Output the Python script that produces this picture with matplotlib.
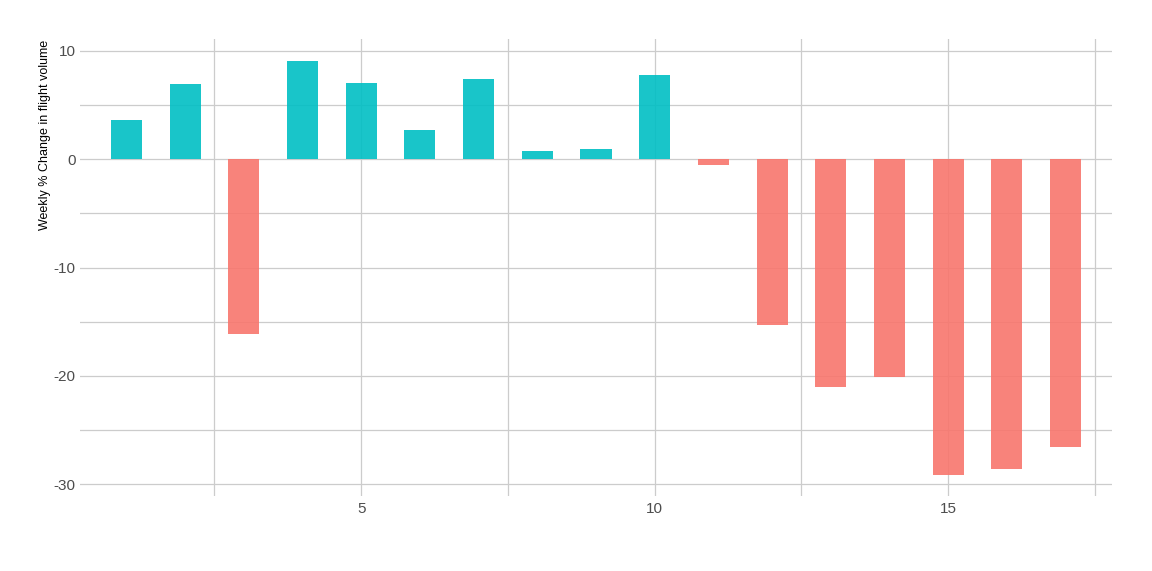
import matplotlib
matplotlib.use('Agg')
import matplotlib.pyplot as plt
import numpy as np

plt.rcParams['font.family'] = ['Liberation Sans', 'DejaVu Sans']
plt.rcParams['axes.unicode_minus'] = False

# weekly % change in flight volume, week index 1..17
weeks = list(range(1, 18))
pct_change = [3.6, 6.9, -16.1, 9.1, 7.0, 2.7, 7.4, 0.8, 0.9, 7.8,
              -0.55, -15.3, -21.0, -20.1, -29.2, -28.6, -26.6]

POS = '#00BFC4'
NEG = '#F8766D'
GRID = '#CCCCCC'

fig = plt.figure(figsize=(11.52, 5.71), dpi=100)
ax = fig.add_axes([80 / 1152, 1 - 496 / 571, 1032 / 1152, 457 / 571])

colors = [POS if v >= 0 else NEG for v in pct_change]
ax.bar(weeks, pct_change, width=0.53, color=colors, alpha=0.9, zorder=2)

ax.set_xlim(0.21, 17.79)
ax.set_ylim(-31.1, 11.1)

ax.set_xticks([5, 10, 15])
ax.set_xticks([2.5, 7.5, 12.5, 17.5], minor=True)
ax.set_yticks([-30, -20, -10, 0, 10])
ax.set_yticks([-25, -15, -5, 5], minor=True)

ax.grid(True, which='both', color=GRID, linewidth=0.9, zorder=0)
ax.set_axisbelow(True)
for s in ax.spines.values():
    s.set_visible(False)
ax.tick_params(which='both', length=0, labelsize=11, labelcolor='#4D4D4D')
ax.tick_params(axis='x', pad=4)
ax.tick_params(axis='y', pad=3)

# y title sits near the top, as in the source
fig.text(45 / 1152, 1 - 40 / 571, 'Weekly % Change in flight volume',
         rotation=90, ha='center', va='top', fontsize=9, color='black')

fig.savefig('out.png', dpi=100)
